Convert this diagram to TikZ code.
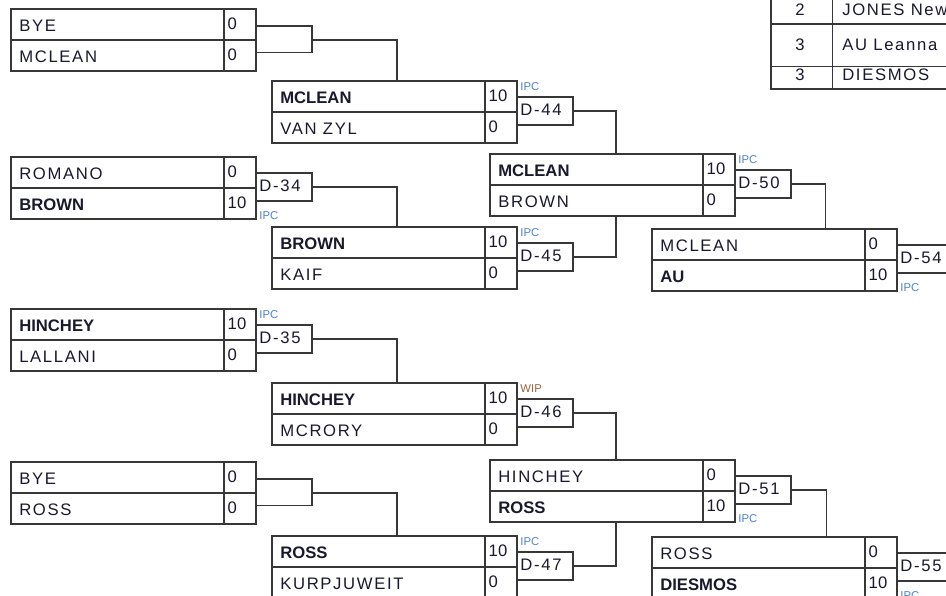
\documentclass[tikz,border=0pt]{standalone}
\usepackage{fontspec}
\setmainfont{Liberation Sans}
\newfontfamily\spacedfam{Liberation Sans}[LetterSpace=10]
\usetikzlibrary{calc}
\definecolor{lc}{RGB}{55,55,55}
\definecolor{txt}{RGB}{25,25,45}
\definecolor{ipcc}{RGB}{80,130,200}
\definecolor{wipc}{RGB}{150,100,60}
\tikzset{
  ln/.style={draw=lc, line width=1pt},
  tln/.style={draw=lc, line width=1.8pt},
  mbox/.style={ln, minimum width=183.75pt, minimum height=46.5pt, anchor=north west, inner sep=0pt, outer sep=0pt},
  dbox/.style={ln, minimum width=42pt, minimum height=21pt, anchor=west, inner sep=0pt, outer sep=0pt},
  nmreg/.style={anchor=base west, inner sep=0pt, text=txt, font=\fontsize{12.5}{14}\spacedfam},
  nmbold/.style={anchor=base west, inner sep=0pt, text=txt, font=\fontsize{12.5}{14}\selectfont\bfseries},
  score/.style={anchor=base west, inner sep=0pt, text=txt, font=\fontsize{12.5}{14}\selectfont},
  tabnum/.style={anchor=base, inner sep=0pt, text=txt, font=\fontsize{12.5}{14}\selectfont},
  dtext/.style={anchor=base west, inner sep=0pt, text=txt, font=\fontsize{12.5}{14}\spacedfam},
  wl/.style={anchor=base west, inner sep=0pt, text=ipcc, font=\fontsize{8.5}{9}\selectfont},
}
% match: name, x, y, top name, top score, bottom name, bottom score, top style, bottom style
\newcommand\mmatch[9]{%
  \node[mbox] (#1) at (#2,#3) {};
  \draw[ln] (#1.west) -- (#1.east);
  \draw[ln] ([xshift=-24pt]#1.north east) -- ([xshift=-24pt]#1.south east);
  \node[#8] (#1-tn) at ([xshift=6pt,yshift=-16.9pt]#1.north west) {#4};
  \node[score] (#1-ts) at ([xshift=-21.4pt,yshift=-15.6pt]#1.north east) {#5};
  \node[#9] (#1-bn) at ([xshift=6pt,yshift=-40.15pt]#1.north west) {#6};
  \node[score] (#1-bs) at ([xshift=-21.4pt,yshift=-38.85pt]#1.north east) {#7};
}
% decision box: name, match node, label
\newcommand\dmatch[3]{%
  \node[dbox] (#1) at ([yshift=0.75pt]#2.east) {};
  \node[dtext] (#1-t) at ([xshift=2.4pt,yshift=-14.2pt]#1.north west) {#3};
}
\newcommand\wabove[3][ipcc]{\node[wl,text=#1] (#2-w) at ([xshift=2.4pt,yshift=5pt]#2.north west) {#3};}
\newcommand\wbelow[3][ipcc]{\node[wl,text=#1] (#2-w) at ([xshift=2.4pt,yshift=-34.5pt]#2.north west) {#3};}
% bye bracket: match node, coordinate name
\newcommand\byebr[2]{%
  \coordinate (#2-t) at ([yshift=-12.75pt]#1.north east);
  \coordinate (#2-b) at ([yshift=-32.8pt]#1.north east);
  \draw[ln] (#2-t) -- ++(42pt,0) |- (#2-b);
  \coordinate (#2) at ([xshift=42pt]#1.east);
}
\begin{document}
\begin{tikzpicture}[x=0.75pt,y=-0.75pt]
\useasboundingbox (0,0) rectangle (946,596);
\fill[white] (0,0) rectangle (946,596);
\clip (0,0) rectangle (946,596);

% ---- first round
\mmatch{A}{11}{9}{BYE}{0}{MCLEAN}{0}{nmreg}{nmreg}
\mmatch{B}{11}{157}{ROMANO}{0}{BROWN}{10}{nmreg}{nmbold}
\mmatch{C}{11}{309}{HINCHEY}{10}{LALLANI}{0}{nmbold}{nmreg}
\mmatch{D}{11}{462}{BYE}{0}{ROSS}{0}{nmreg}{nmreg}
% ---- second round
\mmatch{E}{272}{81}{MCLEAN}{10}{VAN ZYL}{0}{nmbold}{nmreg}
\mmatch{F}{272}{227}{BROWN}{10}{KAIF}{0}{nmbold}{nmreg}
\mmatch{G}{272}{383}{HINCHEY}{10}{MCRORY}{0}{nmbold}{nmreg}
\mmatch{H}{272}{536}{ROSS}{10}{KURPJUWEIT}{0}{nmbold}{nmreg}
% ---- third round
\mmatch{I}{490}{154}{MCLEAN}{10}{BROWN}{0}{nmbold}{nmreg}
\mmatch{J}{490}{460}{HINCHEY}{0}{ROSS}{10}{nmreg}{nmbold}
% ---- fourth round
\mmatch{K}{652}{229}{MCLEAN}{0}{AU}{10}{nmreg}{nmbold}
\mmatch{L}{652}{537}{ROSS}{0}{DIESMOS}{10}{nmreg}{nmbold}

% ---- decision boxes
\dmatch{d34}{B}{D-34} \wbelow{d34}{IPC}
\dmatch{d35}{C}{D-35} \wabove{d35}{IPC}
\dmatch{d44}{E}{D-44} \wabove{d44}{IPC}
\dmatch{d45}{F}{D-45} \wabove{d45}{IPC}
\dmatch{d46}{G}{D-46} \wabove[wipc]{d46}{WIP}
\dmatch{d47}{H}{D-47} \wabove{d47}{IPC}
\dmatch{d50}{I}{D-50} \wabove{d50}{IPC}
\dmatch{d51}{J}{D-51} \wbelow{d51}{IPC}
\dmatch{d54}{K}{D-54} \wbelow{d54}{IPC}
\dmatch{d55}{L}{D-55} \wbelow{d55}{IPC}

% ---- byes
\byebr{A}{byeA}
\byebr{D}{byeD}

% ---- connectors
\draw[ln] (byeA) -| ([xshift=1.9pt]E.north);
\draw[ln] (d34.east) -| ([xshift=1.9pt]F.north);
\draw[ln] (d35.east) -| ([xshift=1.9pt]G.north);
\draw[ln] (byeD) -| ([xshift=1.9pt]H.north);
\draw[ln] (d44.east) -| ([xshift=2.6pt]I.north);
\draw[ln] (d45.east) -| ([xshift=2.6pt]I.south);
\draw[ln] (d46.east) -| ([xshift=2.6pt]J.north);
\draw[ln] (d47.east) -| ([xshift=2.6pt]J.south);
\draw[ln] (d50.east) -| ([xshift=38pt]K.north);
\draw[ln] (d51.east) -| ([xshift=39pt]L.north);

% ---- standings table (top right)
\draw[ln] (771,-5) rectangle (1100,89);
\draw[ln] (771,24) -- (1100,24);
\draw[ln] (771,66.5) -- (1100,66.5);
\draw[ln] (832.7,-5) -- (832.7,89);
\draw[tln] (771,-5) -- (771,89) -- (1100,89);
\node[tabnum] (t1n) at (800,15.7) {2};
\node[tabnum] (t2n) at (800,50) {3};
\node[tabnum] (t3n) at (800,80) {3};
\node[nmreg] (t1) at (842,15.7) {JONES New};
\node[nmreg] (t2) at (842,50) {AU Leanna};
\node[nmreg] (t3) at (842,80) {DIESMOS};
\end{tikzpicture}
\end{document}
